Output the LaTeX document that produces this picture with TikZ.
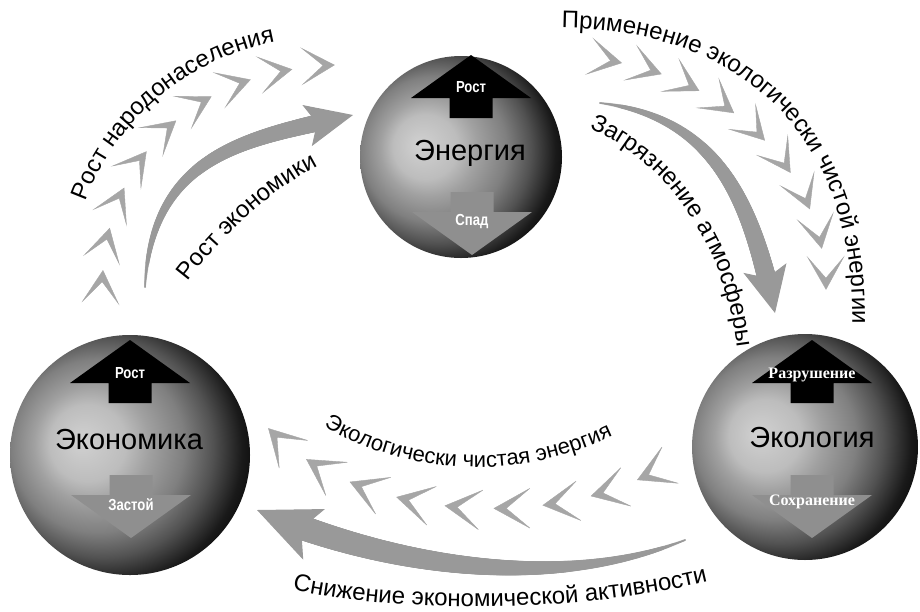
\documentclass[tikz,border=0pt]{standalone}
\usepackage{fontspec}
\setmainfont{Liberation Sans}
\newfontfamily\narrowsans[FakeStretch=0.82]{Liberation Sans}
\newfontfamily\tagserif{Liberation Serif}
\usetikzlibrary{arrows.meta,decorations.markings,decorations.text}

\definecolor{flowgray}{gray}{0.6}
\definecolor{chevgray}{gray}{0.65}
\definecolor{fallgray}{gray}{0.56}

\pgfdeclareradialshading{globeshade}{\pgfpoint{-10.5bp}{3bp}}{%
  color(0bp)=(black!18); color(8bp)=(black!26); color(12bp)=(black!37);
  color(18bp)=(black!50); color(23bp)=(black!68); color(28bp)=(black!90);
  color(33bp)=(black); color(50bp)=(black)}

\newcommand\arcfont{\fontsize{24}{28}\selectfont}
\newcommand\smallarcfont{\fontsize{22}{26}\selectfont}

\tikzset{
  sphere/.style={circle, inner sep=0pt, shading=globeshade},
  title/.style={font=\fontsize{29}{34}\selectfont},
  tag/.style={text=white, font=\narrowsans\bfseries\fontsize{16}{18}\selectfont},
  seriftag/.style={text=white, font=\tagserif\bfseries\fontsize{16}{18}\selectfont},
  growarr/.pic={\fill[black] (0,0) -- (60,43) -- (21.5,43) -- (21.5,63)
    -- (-21.5,63) -- (-21.5,43) -- (-60,43) -- cycle;},
  fallarr/.pic={\fill[fallgray] (-21.5,0) -- (21.5,0) -- (21.5,20) -- (60,20)
    -- (0,63) -- (-60,20) -- (-21.5,20) -- cycle;},
  chevrons/.style n args={4}{decorate, decoration={markings,
    mark=between positions 0 and 1 step #1 with
      {\arrow[chevgray]{Stealth[length=#2,width=#3,inset=#4]}}}},
  taper/.style n args={6}{draw=flowgray, line width=1pt,
    -{Stealth[length=#4,width=#5,inset=#6]},
    postaction={decorate, decoration={markings,
      mark=between positions 0 and -#3 step 1pt with {%
        \pgfmathsetmacro\ff{\pgfkeysvalueof{/pgf/decoration/mark info/distance from start}/\pgfdecoratedpathlength}%
        \pgfmathsetmacro\halfw{(#1+(#2-#1)*\ff*(1.6-0.6*\ff))/2}%
        \fill[flowgray] (0pt,0pt) circle[radius=\halfw pt];}}}},
  arctext/.style={decorate, decoration={text along path, text align=center,
    text={|\arcfont|#1}}},
  smallarctext/.style={decorate, decoration={text along path, text align=center,
    text={|\smallarcfont|#1}}}
}

\begin{document}
\begin{tikzpicture}[x=1pt,y=-1pt]
\useasboundingbox (0,0) rectangle (920,611);

% spheres
\node[sphere, minimum size=202pt] (en) at (461,157) {};
\node[sphere, minimum size=240pt] (ek) at (130,455) {};
\node[sphere, minimum size=226pt] (el) at (805,447) {};

% energy
\pic at (471,55) {growarr};
\pic at (472,192) {fallarr};
\node[title] (en-t) at (470,153) {Энергия};
\node[tag] (en-up) at (471,87) {Рост};
\node[tag] (en-dn) at (472,222) {Спад};

% economy
\pic at (130,340) {growarr};
\pic at (131,475) {fallarr};
\node[title] (ek-t) at (129,440) {Экономика};
\node[tag] (ek-up) at (130,373) {Рост};
\node[tag] (ek-dn) at (131,505) {Застой};

% ecology
\pic at (812,340) {growarr};
\pic at (812,475) {fallarr};
\node[title] (el-t) at (812,438) {Экология};
\node[seriftag] (el-up) at (812,375) {Разрушение};
\node[seriftag] (el-dn) at (812,502) {Сохранение};

% economy -> energy
\coordinate (pop-a) at (103,270);
\coordinate (pop-b) at (335,65);
\path[chevrons={0.1249}{34pt}{38pt}{22pt}] (pop-a) .. controls (112,150) and (200,70) .. (pop-b);
\path[arctext={Рост народонаселения}] (82,213) .. controls (107,130) and (182,55) .. (287,40);
\coordinate (grow-a) at (145,287);
\coordinate (grow-b) at (353,115);
\draw[taper={2}{18}{35pt}{47pt}{42pt}{10pt}] (grow-a) .. controls (152,150) and (253,138) .. (grow-b);
\path[arctext={Рост экономики}] (180,292) .. controls (215,245) and (265,190) .. (330,160);

% energy -> ecology
\coordinate (clean-a) at (622,63);
\coordinate (clean-b) at (826,290);
\path[chevrons={0.1249}{34pt}{38pt}{22pt}] (clean-a) .. controls (730,85) and (825,170) .. (clean-b);
\path[arctext={Применение экологически чистой энергии}] (550,28) .. controls (725,25) and (860,120) .. (852,335);
\coordinate (smog-a) at (600,103);
\coordinate (smog-b) at (775,313);
\draw[taper={2}{20}{35pt}{46pt}{44pt}{10pt}] (smog-a) .. controls (725,118) and (753,215) .. (smog-b);
\path[arctext={Загрязнение атмосферы}] (578,124) .. controls (655,150) and (728,235) .. (738,360);

% ecology -> economy
\coordinate (green-a) at (637,480);
\coordinate (green-b) at (268,428);
\path[chevrons={0.1249}{38pt}{42pt}{25pt}] (green-a) .. controls (530,528) and (355,518) .. (green-b);
\path[smallarctext={Экологически чистая энергия}] (312,420) .. controls (410,480) and (525,482) .. (625,430);
\coordinate (slow-a) at (685,540);
\coordinate (slow-b) at (257,510);
\draw[taper={2}{26}{46pt}{62pt}{55pt}{14pt}] (slow-a) .. controls (560,590) and (395,569) .. (slow-b);
\path[arctext={Снижение экономической активности}] (275,585) .. controls (380,615) and (590,615) .. (725,577);
\end{tikzpicture}
\end{document}
